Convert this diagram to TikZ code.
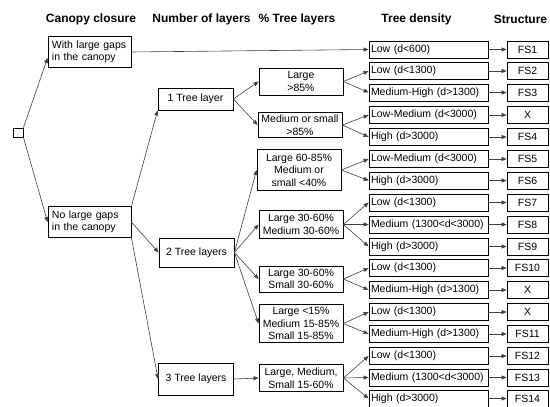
\documentclass[tikz,border=0pt]{standalone}
\usepackage{fontspec}
\setmainfont{Liberation Sans}
\usetikzlibrary{arrows.meta, positioning}

\begin{document}
\begin{tikzpicture}[x=1pt, y=-1pt,
    box/.style={draw, line width=0.8pt, inner sep=2pt, font=\fontsize{10.5}{12.5}\selectfont},
    canopy/.style={box, text width=75pt, align=left, minimum height=31pt, inner sep=4pt},
    layer/.style={box, minimum width=75pt},
    share/.style={box, minimum width=84pt, align=center},
    density/.style={box, text width=115pt, align=left, minimum height=17pt},
    struct/.style={box, minimum width=41pt, minimum height=17pt},
    head/.style={font=\bfseries\fontsize{12}{14}\selectfont},
    link/.style={-{Triangle[length=5pt, width=4pt]}, line width=0.6pt, black!75}]
    \useasboundingbox (0,0) rectangle (550,407);

    % column titles
    \node[head] (hcanopy) at (91,19) {Canopy closure};
    \node[head] (hlayers) at (201.5,19) {Number of layers};
    \node[head] (hshare) at (297,19) {\% Tree layers};
    \node[head] (hdensity) at (416.5,19) {Tree density};
    \node[head] (hstruct) at (520.5,19) {Structure};

    \node[draw, line width=0.9pt, minimum width=10pt, minimum height=9pt, inner sep=0pt] (root) at (18,132.5) {};

    % canopy closure
    \node[canopy] (gaps) at (89.5,52) {With large gaps\\in the canopy};
    \node[canopy, minimum height=30pt] (nogaps) at (89.5,222) {No large gaps\\in the canopy};

    % number of layers
    \node[layer, minimum height=22pt] (one) at (195.5,99) {1 Tree layer};
    \node[layer, minimum height=29pt] (two) at (196.5,252.5) {2 Tree layers};
    \node[layer, minimum height=32pt] (three) at (196,379) {3 Tree layers};

    % share of tree layers
    \node[share, minimum height=27pt] (p1) at (301,81.5) {Large\\>85\%};
    \node[share, minimum height=25pt] (p2) at (300,125) {Medium or small\\>85\%};
    \node[share, minimum height=41pt] (p3) at (299,170) {Large 60-85\%\\Medium or\\small <40\%};
    \node[share, minimum height=28pt] (p4) at (301,224.5) {Large 30-60\%\\Medium 30-60\%};
    \node[share, minimum height=26pt] (p5) at (301,279) {Large 30-60\%\\Small 30-60\%};
    \node[share, minimum height=38pt] (p6) at (301,323.5) {Large <15\%\\Medium 15-85\%\\Small 15-85\%};
    \node[share, minimum height=27pt] (p7) at (301,378) {Large, Medium,\\Small 15-60\%};

    % tree density and structure
    \foreach \y/\dens/\fs [count=\i from 0] in {49.5/Low (d<600)/FS1,
        71/Low (d<1300)/FS2, 92.5/Medium-High (d>1300)/FS3,
        115/Low-Medium (d<3000)/X, 137/High (d>3000)/FS4,
        159/Low-Medium (d<3000)/FS5, 180.5/High (d>3000)/FS6,
        202.5/Low (d<1300)/FS7, 224.5/Medium (1300<d<3000)/FS8, 246.5/High (d>3000)/FS9,
        268/Low (d<1300)/FS10, 290/Medium-High (d>1300)/X,
        312/Low (d<1300)/X, 334/Medium-High (d>1300)/FS11,
        356/Low (d<1300)/FS12, 377.5/Medium (1300<d<3000)/FS13, 398.5/High (d>3000)/FS14}
    {
        \node[density] (d\i) at (428.5,\y) {\dens};
        \node[struct] (s\i) at (527.5,\y) {\fs};
        \draw[link] (d\i.east) -- (s\i.west);
    }

    \draw[link] (root.north east) -- ([yshift=-6pt]gaps.west);
    \draw[link] (root.south east) -- (nogaps.west);
    \draw[link] (gaps.east) -- (d0.west);
    \draw[link] (nogaps.north east) -- (one.south west);
    \draw[link] (nogaps.east) -- (two.west);
    \draw[link] (nogaps.south east) -- (three.west);
    \foreach \p in {p1,p2}
        \draw[link] (one.east) -- (\p.west);
    \foreach \p in {p3,p4,p5,p6}
        \draw[link] (two.east) -- (\p.west);
    \draw[link] (three.east) -- (p7.west);
    \foreach \p/\d in {p1/1,p1/2,p2/3,p2/4,p3/5,p3/6,p4/7,p4/8,p4/9,
        p5/10,p5/11,p6/12,p6/13,p7/14,p7/15,p7/16}
        \draw[link] (\p.east) -- (d\d.west);
\end{tikzpicture}
\end{document}
